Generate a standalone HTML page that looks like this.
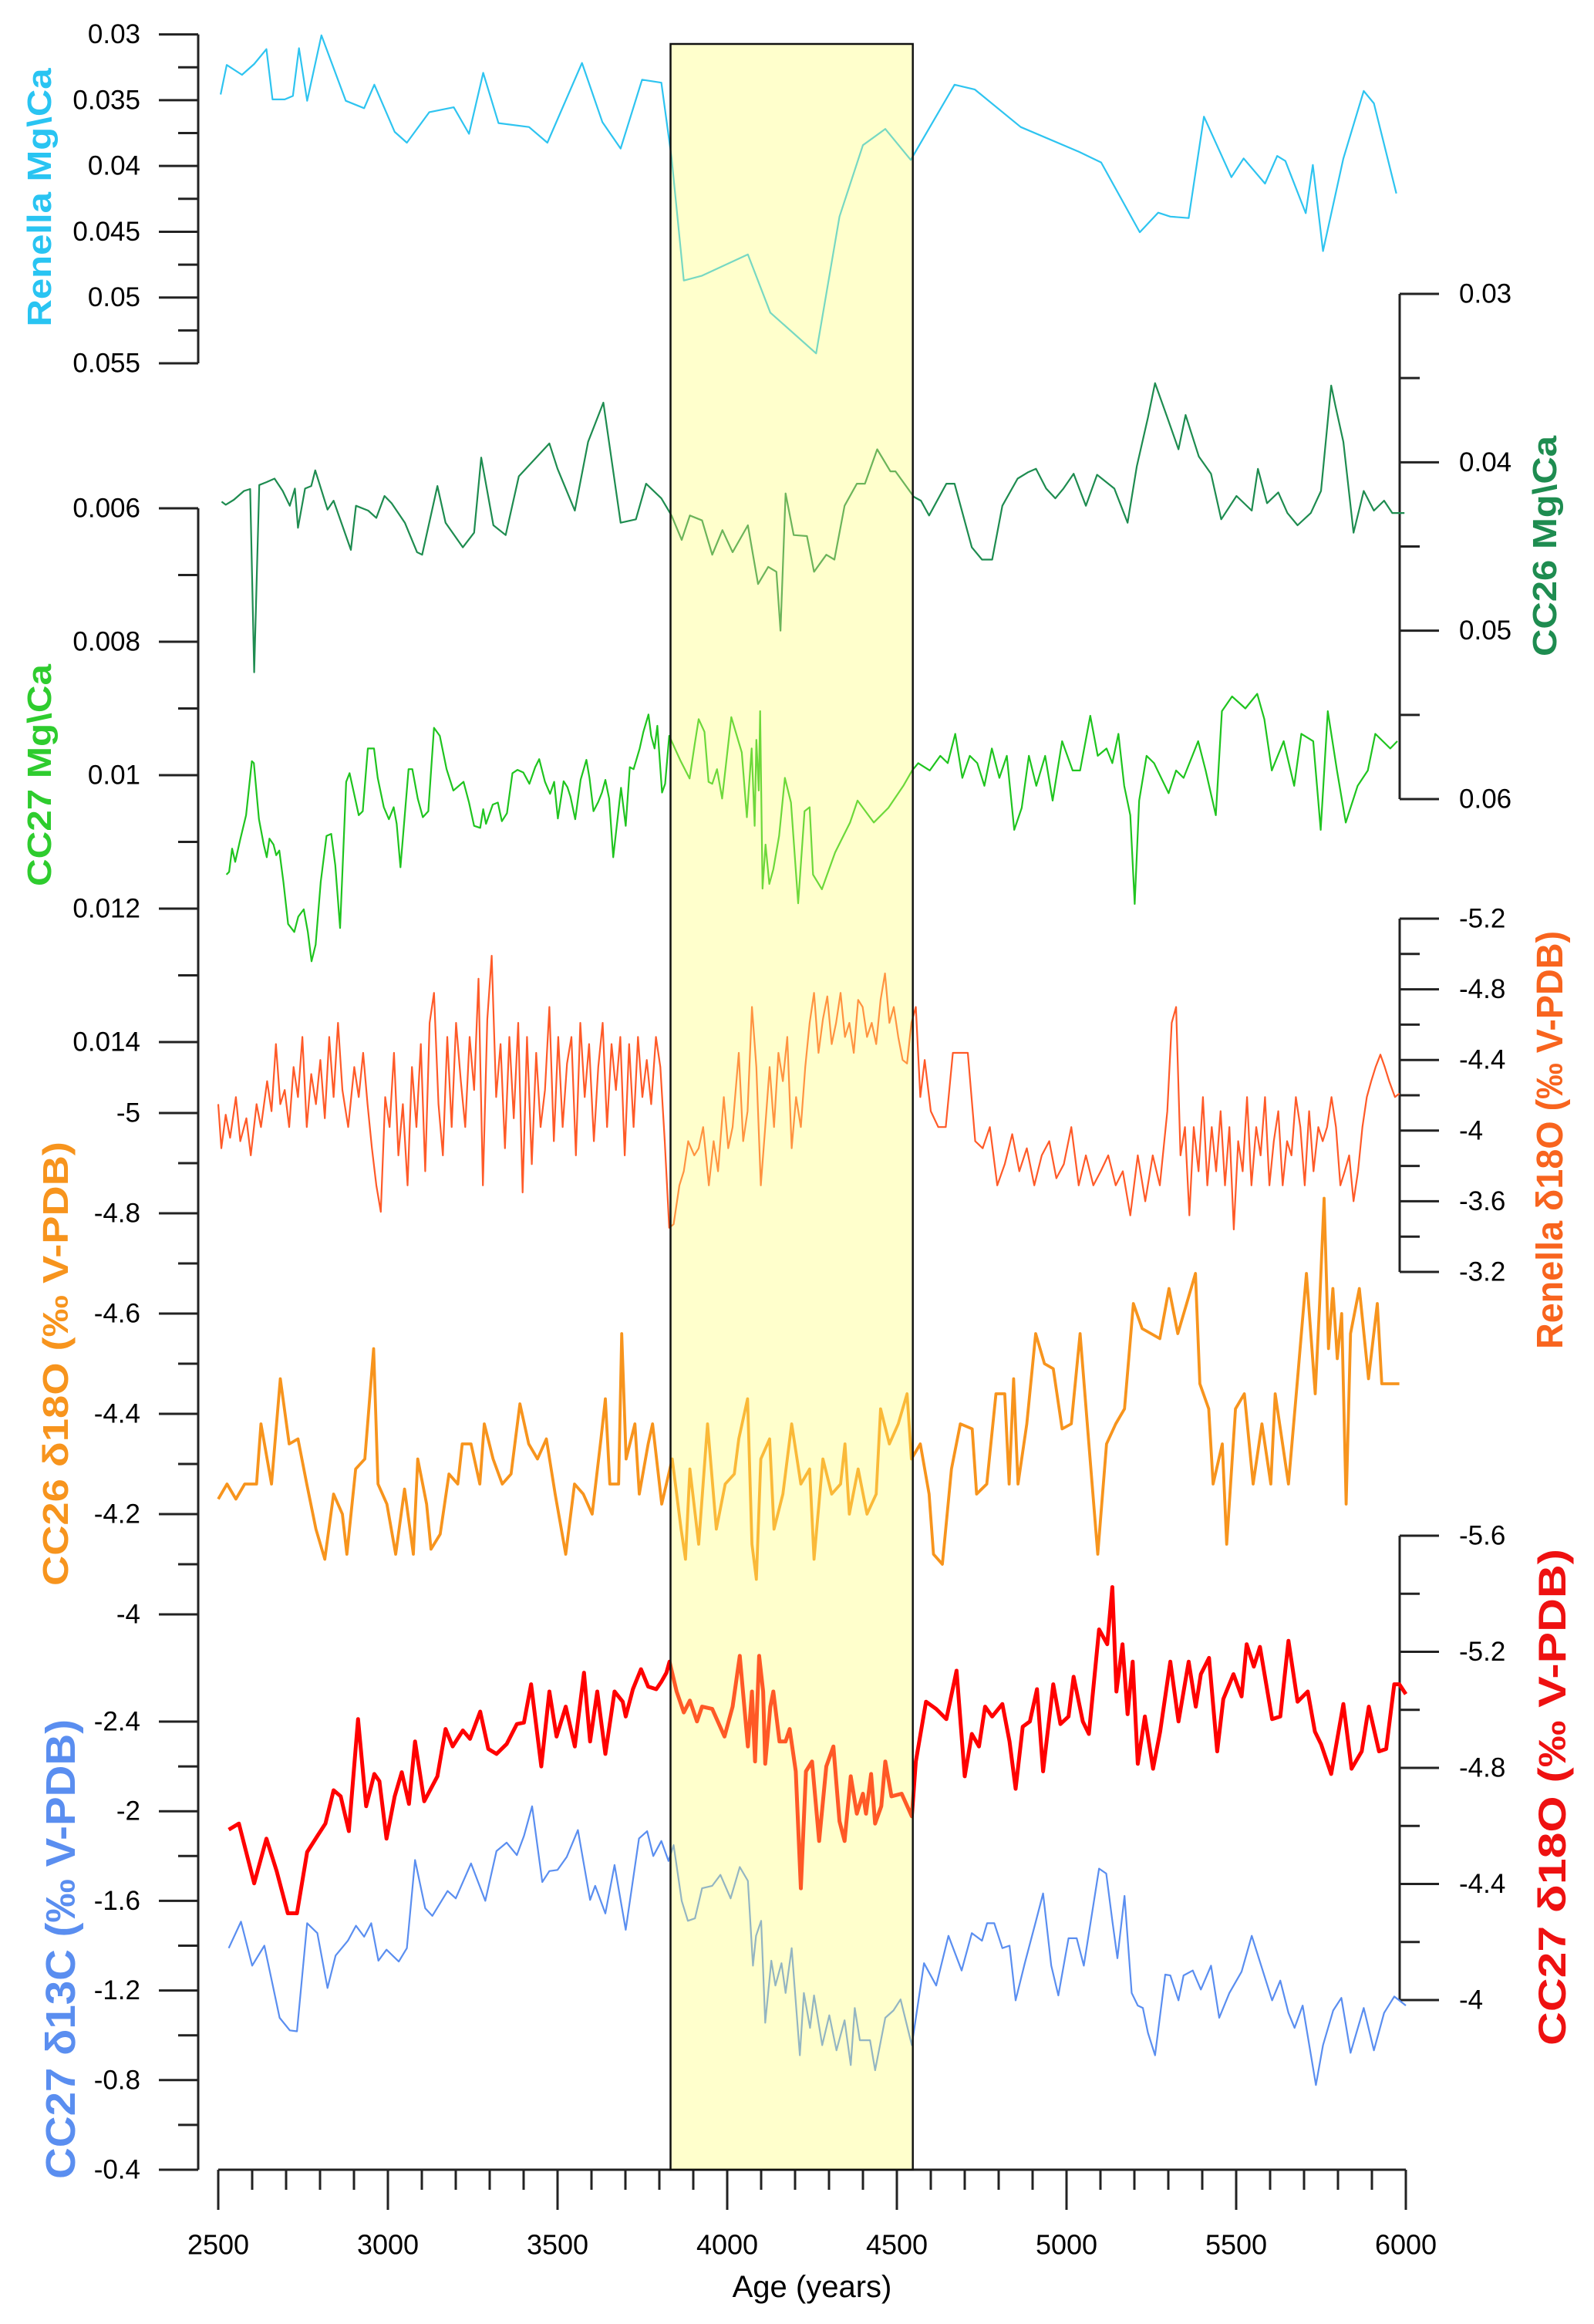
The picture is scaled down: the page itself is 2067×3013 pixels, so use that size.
<!DOCTYPE html>
<html>
<head>
<meta charset="utf-8">
<style>
html,body{margin:0;padding:0;background:#fff;}
svg{display:block;}
text{font-family:"Liberation Sans",Arial,sans-serif;}
</style>
</head>
<body>
<svg id="chart" xmlns="http://www.w3.org/2000/svg" width="2067" height="3013" viewBox="0 0 2067 3013">
  <g id="axes"></g>
  <g id="series"></g>
  <g id="overlay"></g>
  <g id="titles">
    <text transform="translate(66,256) rotate(-90)" text-anchor="middle" font-size="44" font-weight="bold" fill="#29c4f2" textLength="335" lengthAdjust="spacingAndGlyphs">Renella Mg\Ca</text>
    <text transform="translate(66,1005) rotate(-90)" text-anchor="middle" font-size="44" font-weight="bold" fill="#2ecc2e" textLength="288" lengthAdjust="spacingAndGlyphs">CC27 Mg\Ca</text>
    <text transform="translate(88,1768) rotate(-90)" text-anchor="middle" font-size="46" font-weight="bold" fill="#f7941d" textLength="576" lengthAdjust="spacingAndGlyphs">CC26 δ18O (‰ V-PDB)</text>
    <text transform="translate(97,2527) rotate(-90)" text-anchor="middle" font-size="54" font-weight="bold" fill="#5a8ef0" textLength="596" lengthAdjust="spacingAndGlyphs">CC27  δ13C (‰ V-PDB)</text>
    <text transform="translate(2018,708) rotate(-90)" text-anchor="middle" font-size="44" font-weight="bold" fill="#1e8c50" textLength="286" lengthAdjust="spacingAndGlyphs">CC26 Mg\Ca</text>
    <text transform="translate(2026,1478) rotate(-90)" text-anchor="middle" font-size="48" font-weight="bold" fill="#f8641e" textLength="542" lengthAdjust="spacingAndGlyphs">Renella δ18O (‰ V-PDB)</text>
    <text transform="translate(2030,2330) rotate(-90)" text-anchor="middle" font-size="50" font-weight="bold" fill="#ee1111" textLength="644" lengthAdjust="spacingAndGlyphs">CC27 δ18O (‰ V-PDB)</text>
    <text x="1053" y="2978" text-anchor="middle" font-size="40" fill="#000">Age (years)</text>
  </g>
</svg>
<script>
// ---------- tick labels ----------
const xTickLabels = ["2500","3000","3500","4000","4500","5000","5500","6000"];
const renellaMgTicks = ["0.03","0.035","0.04","0.045","0.05","0.055"];
const cc26MgTicks = ["0.03","0.04","0.05","0.06"];
const cc27MgTicks = ["0.006","0.008","0.01","0.012","0.014"];
const renellaOTicks = ["-5.2","-4.8","-4.4","-4","-3.6","-3.2"];
const cc26OTicks = ["-5","-4.8","-4.6","-4.4","-4.2","-4"];
const cc27OTicks = ["-5.6","-5.2","-4.8","-4.4","-4"];
const c13Ticks = ["-2.4","-2","-1.6","-1.2","-0.8","-0.4"];

// ---------- highlighted interval (years) ----------
const eventStart = 3833;
const eventEnd = 4547;

// ---------- Renella Mg/Ca ----------
const renellaMgAges = [2507,2525,2570,2606,2642,2660,2696,2720,2738,2762,2804,2876,2930,2960,3020,3056,3122,3194,3239,3281,3326,3416,3470,3572,3632,3686,3749,3806,3836,3872,3926,4061,4127,4262,4331,4400,4466,4541,4670,4730,4865,5036,5102,5216,5270,5306,5360,5405,5486,5522,5585,5621,5645,5705,5726,5756,5816,5876,5906,5972];
const renellaMgValues = [0.03457,0.03232,0.03307,0.03225,0.03112,0.03494,0.03494,0.03468,0.03105,0.03505,0.03007,0.03505,0.03561,0.03382,0.03741,0.03823,0.03591,0.03554,0.03756,0.03292,0.03674,0.03704,0.03823,0.03217,0.03666,0.03868,0.03344,0.03367,0.03936,0.04871,0.04834,0.04673,0.05115,0.05425,0.04385,0.03842,0.03719,0.03954,0.03382,0.03419,0.03704,0.03891,0.03973,0.04504,0.04355,0.04385,0.04396,0.03625,0.04085,0.03943,0.04134,0.03924,0.03962,0.04359,0.03992,0.04647,0.03943,0.0343,0.03524,0.04209];

// ---------- CC26 Mg/Ca ----------
const cc26MgAges = [2510,2522,2546,2576,2594,2606,2621,2642,2666,2690,
2711,2726,2735,2756,2774,2786,2822,2840,2891,2906,
2942,2966,2990,3011,3050,3086,3101,3146,3170,3221,
3254,3275,3311,3347,3386,3476,3500,3551,3590,3635,
3686,3731,3761,3806,3836,3866,3890,3926,3956,3986,
4016,4061,4091,4121,4145,4157,4172,4196,4235,4256,
4292,4316,4346,4382,4406,4442,4481,4496,4550,4571,
4595,4646,4670,4721,4751,4781,4811,4856,4886,4910,
4940,4967,4991,5021,5057,5090,5141,5180,5207,5240,
5261,5297,5330,5351,5390,5426,5456,5501,5546,5564,
5591,5624,5651,5681,5720,5750,5780,5792,5816,5846,
5876,5906,5936,5960,5996];
const cc26MgValues = [0.04234,0.04252,0.04223,0.0417,0.04159,0.05247,0.04135,0.04118,0.04097,0.0417,
0.04258,0.04156,0.04389,0.04156,0.04141,0.04048,0.04281,0.04228,0.0452,0.04258,
0.04287,0.0433,0.042,0.04243,0.04359,0.04534,0.04549,0.04141,0.04359,0.04505,
0.04418,0.03972,0.04374,0.04432,0.04083,0.03888,0.04039,0.04287,0.03879,0.03646,
0.04359,0.04339,0.04127,0.04214,0.04316,0.04461,0.04316,0.04345,0.04549,0.04403,
0.04534,0.04374,0.04723,0.04621,0.0465,0.05,0.04185,0.04432,0.04438,0.0465,
0.04549,0.04578,0.04258,0.04127,0.04127,0.03923,0.04054,0.04054,0.04205,0.04228,
0.04316,0.04127,0.04127,0.04505,0.04578,0.04578,0.04258,0.04097,0.0406,0.04039,
0.04156,0.04214,0.04156,0.04068,0.04258,0.04074,0.04156,0.04359,0.04025,0.03734,
0.0353,0.03734,0.03923,0.03719,0.03966,0.04068,0.04339,0.042,0.04287,0.04039,
0.04243,0.04179,0.04301,0.04374,0.04301,0.0417,0.03544,0.03661,0.03879,0.04418,
0.0417,0.04287,0.04228,0.04301,0.04301];

// ---------- CC27 Mg/Ca ----------
const cc27MgAges = [2524,2532,2541,2550,2564,2582,2599,2605,2620,2634,
2643,2651,2663,2671,2680,2692,2706,2715,2724,2736,
2752,2764,2775,2787,2802,2819,2833,2845,2859,2877,
2887,2901,2914,2926,2941,2959,2970,2988,3003,3017,
3026,3037,3061,3072,3088,3103,3119,3136,3153,3173,
3193,3223,3239,3254,3272,3281,3289,3309,3324,3336,
3351,3367,3382,3399,3417,3434,3446,3463,3478,3490,
3501,3518,3529,3538,3552,3568,3585,3594,3606,3620,
3631,3641,3652,3664,3680,3687,3701,3713,3724,3742,
3753,3768,3776,3786,3794,3808,3817,3829,3846,3863,
3889,3904,3916,3933,3945,3956,3970,3985,4012,4043,
4058,4072,4081,4086,4093,4097,4104,4113,4124,4136,
4153,4170,4188,4209,4228,4243,4253,4279,4318,4362,
4384,4432,4475,4519,4545,4563,4597,4628,4650,4672,
4693,4715,4737,4758,4780,4802,4824,4846,4868,4889,
4911,4937,4959,4987,5018,5040,5070,5092,5118,5135,
5153,5170,5188,5201,5214,5236,5258,5301,5323,5345,
5388,5410,5440,5458,5488,5527,5562,5583,5605,5640,
5671,5692,5727,5749,5770,5797,5823,5858,5888,5910,
5932,5954,5975];
const cc27MgValues = [0.01149,0.01145,0.0111,0.0113,0.01098,0.0106,0.00979,0.00982,0.01066,0.01104,
0.01123,0.01095,0.01104,0.0112,0.01113,0.0116,0.01223,0.01229,0.01235,0.01212,
0.01201,0.01235,0.01279,0.01254,0.0116,0.01091,0.01088,0.01135,0.01229,0.0101,
0.00997,0.01029,0.0106,0.01054,0.0096,0.0096,0.01004,0.01048,0.01066,0.01048,
0.01073,0.01138,0.00991,0.00991,0.01035,0.01063,0.01054,0.00929,0.00941,0.00991,
0.01023,0.0101,0.01041,0.01076,0.01079,0.01051,0.01073,0.01044,0.01041,0.01069,
0.01057,0.00997,0.00992,0.00996,0.01013,0.00988,0.00976,0.0101,0.01028,0.0101,
0.01065,0.01009,0.01018,0.01032,0.01066,0.01007,0.00977,0.01004,0.01054,0.0104,
0.01026,0.01007,0.01035,0.01123,0.01051,0.01019,0.01076,0.00988,0.00991,0.0096,
0.00935,0.00909,0.00941,0.0096,0.00926,0.01026,0.01013,0.00941,0.0096,0.00979,
0.01005,0.00954,0.00916,0.00935,0.0101,0.01013,0.00991,0.01035,0.00913,0.00966,
0.01063,0.0096,0.01076,0.00947,0.01023,0.00904,0.0117,0.01104,0.01163,0.01141,
0.01091,0.01004,0.01041,0.01192,0.01054,0.01048,0.01149,0.01171,0.01116,0.01071,
0.01038,0.01071,0.01049,0.01016,0.00993,0.00982,0.00993,0.00971,0.00982,0.00938,
0.01004,0.00971,0.00982,0.01016,0.0096,0.01004,0.00971,0.01082,0.01049,0.00971,
0.01016,0.00971,0.01038,0.00949,0.00993,0.00993,0.00911,0.00971,0.0096,0.00982,
0.00938,0.01016,0.0106,0.01193,0.01038,0.00971,0.00982,0.01027,0.00993,0.01004,
0.00949,0.00993,0.0106,0.00904,0.00882,0.009,0.00878,0.00916,0.00993,0.00949,
0.01016,0.00938,0.00949,0.01082,0.00904,0.00993,0.01071,0.01016,0.00993,0.00938,
0.00949,0.0096,0.00949];

// ---------- Renella d18O ----------
const renellaOAges = [2500,2509,2522,2535,2552,2565,2583,2596,2613,2626,
2644,2657,2670,2683,2696,2709,2722,2735,2748,2761,
2774,2788,2801,2814,2827,2840,2853,2866,2883,2901,
2914,2927,2940,2953,2966,2979,2992,3005,3018,3031,
3044,3058,3071,3084,3097,3110,3123,3136,3149,3162,
3175,3188,3201,3215,3228,3241,3254,3267,3280,3293,
3306,3319,3332,3345,3358,3371,3384,3397,3410,3424,
3437,3450,3463,3476,3489,3502,3515,3528,3541,3554,
3567,3580,3593,3607,3620,3633,3646,3659,3672,3685,
3698,3711,3724,3737,3750,3763,3776,3790,3803,3816,
3829,3842,3859,3872,3885,3903,3916,3929,3946,3960,
3973,3990,4003,4016,4034,4047,4060,4073,4086,4099,
4112,4125,4138,4151,4164,4177,4190,4203,4217,4230,
4243,4256,4269,4282,4295,4308,4321,4334,4347,4360,
4373,4386,4399,4412,4426,4439,4452,4465,4478,4491,
4504,4517,4530,4543,4556,4569,4582,4600,4622,4644,
4665,4687,4709,4731,4753,4774,4796,4818,4840,4861,
4883,4905,4927,4949,4970,4992,5014,5036,5057,5079,
5101,5123,5145,5166,5188,5210,5232,5254,5275,5297,
5310,5323,5336,5349,5362,5375,5389,5402,5415,5428,
5441,5454,5467,5480,5493,5506,5519,5532,5545,5559,
5572,5585,5598,5611,5624,5637,5650,5663,5676,5689,
5702,5715,5728,5742,5755,5768,5781,5794,5807,5820,
5833,5846,5859,5872,5885,5898,5911,5925,5938,5951,
5968,5981];
const renellaOValues = [-4.15,-3.90,-4.09,-3.96,-4.19,-3.94,-4.07,-3.86,-4.15,-4.02,
-4.28,-4.11,-4.49,-4.15,-4.23,-4.02,-4.36,-4.19,-4.53,-4.02,
-4.32,-4.15,-4.40,-4.07,-4.53,-4.19,-4.61,-4.23,-4.02,-4.36,
-4.19,-4.44,-4.15,-3.90,-3.69,-3.54,-4.19,-4.02,-4.44,-3.86,
-4.15,-3.69,-4.36,-4.02,-4.49,-3.77,-4.61,-4.78,-4.15,-3.86,
-4.53,-4.02,-4.61,-4.28,-4.02,-4.53,-4.23,-4.86,-3.69,-4.63,
-4.99,-4.19,-4.49,-3.90,-4.53,-4.07,-4.61,-3.65,-4.53,-3.81,
-4.44,-4.02,-4.23,-4.70,-3.94,-4.53,-4.02,-4.38,-4.53,-3.86,
-4.61,-4.19,-4.49,-3.94,-4.36,-4.61,-4.02,-4.49,-4.23,-4.53,
-3.86,-4.49,-4.02,-4.53,-4.19,-4.40,-4.15,-4.53,-4.36,-3.94,
-3.45,-3.47,-3.69,-3.77,-3.94,-3.86,-3.90,-4.02,-3.69,-3.94,
-3.77,-4.19,-3.90,-4.02,-4.44,-3.94,-4.11,-4.70,-4.36,-3.69,
-4.02,-4.36,-4.02,-4.44,-4.28,-4.53,-3.90,-4.19,-4.02,-4.36,
-4.61,-4.78,-4.44,-4.63,-4.76,-4.49,-4.61,-4.78,-4.53,-4.61,
-4.44,-4.74,-4.70,-4.53,-4.61,-4.49,-4.74,-4.89,-4.61,-4.70,
-4.53,-4.40,-4.38,-4.61,-4.70,-4.19,-4.40,-4.11,-4.02,-4.02,
-4.44,-4.44,-4.44,-3.94,-3.90,-4.02,-3.69,-3.81,-3.98,-3.77,
-3.90,-3.69,-3.86,-3.94,-3.73,-3.81,-4.02,-3.69,-3.86,-3.69,
-3.77,-3.86,-3.69,-3.77,-3.52,-3.86,-3.60,-3.86,-3.69,-4.11,
-4.61,-4.70,-3.86,-4.02,-3.52,-4.02,-3.77,-4.19,-3.69,-4.02,
-3.77,-4.11,-3.69,-4.02,-3.44,-3.94,-3.77,-4.19,-3.69,-4.02,
-3.86,-4.19,-3.69,-3.94,-4.11,-3.69,-3.94,-3.86,-4.19,-4.02,
-3.69,-4.11,-3.77,-4.02,-3.94,-4.02,-4.19,-4.02,-3.69,-3.77,
-3.86,-3.60,-3.77,-4.02,-4.19,-4.28,-4.36,-4.43,-4.36,-4.28,
-4.19,-4.21];

// ---------- CC26 d18O ----------
const cc26OAges = [2500,2526,2552,2578,2613,2626,2657,2683,2709,2735,
2761,2788,2814,2840,2866,2879,2905,2932,2958,2971,
2997,3023,3049,3075,3088,3114,3127,3154,3180,3206,
3219,3245,3271,3284,3310,3337,3363,3389,3415,3441,
3467,3493,3524,3550,3576,3602,3628,3641,3654,3680,
3689,3702,3728,3741,3767,3780,3807,3838,3864,3877,
3890,3916,3942,3968,3994,4021,4034,4060,4073,4086,
4099,4125,4138,4164,4190,4217,4243,4256,4282,4308,
4334,4347,4360,4386,4412,4439,4452,4478,4504,4530,
4543,4569,4595,4608,4634,4661,4687,4722,4735,4765,
4792,4818,4831,4844,4857,4883,4909,4935,4961,4987,
5014,5040,5066,5092,5118,5145,5171,5197,5223,5249,
5275,5302,5328,5354,5380,5393,5419,5432,5459,5472,
5498,5524,5550,5576,5602,5615,5654,5681,5707,5733,
5746,5759,5772,5785,5798,5811,5824,5837,5863,5890,
5916,5929,5955,5981];
const cc26OValues = [-4.23,-4.26,-4.23,-4.26,-4.26,-4.38,-4.26,-4.47,-4.34,-4.35,
-4.26,-4.17,-4.11,-4.24,-4.20,-4.12,-4.29,-4.31,-4.53,-4.26,
-4.22,-4.12,-4.25,-4.12,-4.31,-4.22,-4.13,-4.16,-4.28,-4.26,
-4.34,-4.34,-4.26,-4.38,-4.31,-4.26,-4.28,-4.42,-4.34,-4.31,
-4.35,-4.24,-4.12,-4.26,-4.24,-4.20,-4.35,-4.43,-4.26,-4.26,
-4.56,-4.31,-4.38,-4.24,-4.34,-4.38,-4.22,-4.31,-4.17,-4.11,
-4.29,-4.14,-4.38,-4.17,-4.26,-4.28,-4.35,-4.43,-4.14,-4.07,
-4.31,-4.35,-4.17,-4.24,-4.38,-4.26,-4.29,-4.11,-4.31,-4.24,
-4.26,-4.34,-4.20,-4.29,-4.20,-4.24,-4.41,-4.34,-4.38,-4.44,
-4.31,-4.34,-4.24,-4.12,-4.10,-4.29,-4.38,-4.37,-4.24,-4.26,
-4.44,-4.44,-4.26,-4.47,-4.26,-4.38,-4.56,-4.50,-4.49,-4.37,
-4.38,-4.56,-4.34,-4.12,-4.34,-4.38,-4.41,-4.62,-4.57,-4.56,
-4.55,-4.65,-4.56,-4.62,-4.68,-4.46,-4.41,-4.26,-4.34,-4.14,
-4.41,-4.44,-4.26,-4.38,-4.26,-4.44,-4.26,-4.47,-4.68,-4.44,
-4.62,-4.83,-4.53,-4.65,-4.51,-4.60,-4.22,-4.56,-4.65,-4.47,
-4.62,-4.46,-4.46,-4.46];

// ---------- CC27 d18O ----------
const cc27OAges = [2531,2561,2606,2642,2672,2705,2732,2762,2792,2816,
2840,2861,2885,2912,2936,2960,2975,2996,3020,3041,
3062,3080,3107,3146,3170,3191,3221,3242,3272,3296,
3320,3350,3380,3401,3422,3452,3476,3497,3524,3551,
3578,3596,3617,3641,3668,3692,3701,3722,3746,3767,
3791,3806,3821,3830,3851,3872,3890,3911,3926,3956,
3992,4016,4037,4061,4073,4082,4094,4106,4112,4127,
4136,4154,4172,4184,4202,4217,4232,4250,4271,4292,
4313,4331,4346,4364,4382,4400,4409,4424,4436,4454,
4466,4484,4514,4544,4556,4586,4616,4646,4676,4700,
4721,4742,4760,4781,4811,4832,4850,4871,4892,4913,
4931,4961,4982,5006,5021,5048,5066,5096,5120,5135,
5147,5165,5180,5195,5210,5231,5255,5276,5306,5330,
5360,5381,5396,5420,5444,5462,5492,5516,5531,5552,
5570,5606,5630,5654,5681,5711,5732,5750,5780,5816,
5840,5870,5891,5921,5942,5966,5981,6000];
const cc27OValues = [-4.587,-4.608,-4.402,-4.556,-4.445,-4.299,-4.299,-4.510,-4.565,-4.608,
-4.723,-4.702,-4.582,-4.968,-4.668,-4.779,-4.754,-4.556,-4.702,-4.785,
-4.676,-4.891,-4.685,-4.771,-4.934,-4.874,-4.929,-4.900,-4.994,-4.865,
-4.848,-4.882,-4.951,-4.956,-5.088,-4.805,-5.063,-4.908,-5.011,-4.874,
-5.128,-4.891,-5.063,-4.848,-5.063,-5.028,-4.977,-5.071,-5.140,-5.080,
-5.071,-5.097,-5.128,-5.166,-5.063,-4.991,-5.032,-4.960,-5.011,-5.003,
-4.908,-5.011,-5.186,-4.874,-5.063,-4.822,-5.186,-5.063,-4.814,-5.011,
-5.063,-4.891,-4.891,-4.934,-4.788,-4.385,-4.788,-4.822,-4.548,-4.805,
-4.874,-4.616,-4.548,-4.771,-4.642,-4.711,-4.642,-4.779,-4.608,-4.668,
-4.822,-4.702,-4.711,-4.633,-4.822,-5.028,-5.003,-4.968,-5.135,-4.771,
-4.917,-4.874,-5.011,-4.977,-5.020,-4.891,-4.728,-4.942,-4.960,-5.071,
-4.788,-5.088,-4.951,-4.977,-5.114,-4.960,-4.917,-5.277,-5.226,-5.423,
-5.063,-5.226,-4.985,-5.166,-4.814,-4.977,-4.797,-4.925,-5.166,-4.960,
-5.166,-5.011,-5.123,-5.179,-4.857,-5.037,-5.123,-5.046,-5.226,-5.149,
-5.217,-4.968,-4.977,-5.238,-5.028,-5.063,-4.925,-4.882,-4.779,-5.020,
-4.797,-4.857,-5.011,-4.857,-4.865,-5.088,-5.088,-5.054];

// ---------- CC27 d13C ----------
const c13Ages = [2531,2567,2600,2636,2681,2711,2732,2762,2792,2822,
2846,2882,2906,2930,2951,2972,2996,3032,3056,3080,
3110,3131,3176,3200,3245,3287,3320,3350,3380,3401,
3425,3455,3476,3500,3527,3560,3596,3611,3641,3668,
3701,3740,3764,3782,3806,3827,3842,3866,3884,3905,
3926,3956,3980,4010,4037,4061,4076,4085,4100,4112,
4130,4142,4160,4172,4190,4214,4226,4244,4256,4280,
4301,4322,4346,4364,4376,4391,4421,4436,4466,4490,
4511,4544,4580,4616,4652,4691,4721,4751,4766,4787,
4811,4832,4850,4877,4910,4931,4955,4976,5006,5030,
5051,5096,5117,5135,5150,5171,5192,5210,5225,5240,
5261,5291,5306,5330,5345,5372,5396,5426,5450,5480,
5516,5546,5576,5606,5630,5654,5672,5696,5735,5756,
5786,5810,5837,5876,5906,5936,5966,6000];
const c13Values = [-1.389,-1.507,-1.311,-1.400,-1.078,-1.022,-1.018,-1.500,-1.456,-1.211,
-1.356,-1.422,-1.489,-1.440,-1.500,-1.333,-1.382,-1.329,-1.389,-1.782,
-1.567,-1.533,-1.644,-1.611,-1.767,-1.600,-1.822,-1.860,-1.804,-1.889,
-2.022,-1.684,-1.733,-1.738,-1.796,-1.916,-1.604,-1.667,-1.544,-1.760,
-1.471,-1.878,-1.911,-1.800,-1.867,-1.778,-1.849,-1.600,-1.511,-1.522,
-1.656,-1.667,-1.716,-1.611,-1.751,-1.689,-1.311,-1.444,-1.511,-1.056,
-1.333,-1.222,-1.322,-1.189,-1.389,-0.911,-1.189,-1.033,-1.178,-0.956,
-1.089,-0.933,-1.067,-0.867,-1.122,-0.978,-0.978,-0.844,-1.078,-1.111,
-1.160,-0.956,-1.322,-1.222,-1.444,-1.289,-1.456,-1.422,-1.500,-1.500,
-1.389,-1.400,-1.156,-1.322,-1.511,-1.633,-1.311,-1.178,-1.433,-1.433,
-1.311,-1.744,-1.722,-1.511,-1.344,-1.622,-1.189,-1.133,-1.122,-1.011,
-0.911,-1.271,-1.267,-1.156,-1.267,-1.289,-1.204,-1.311,-1.078,-1.189,
-1.284,-1.444,-1.300,-1.156,-1.244,-1.100,-1.033,-1.133,-0.778,-0.956,
-1.111,-1.167,-0.922,-1.122,-0.933,-1.100,-1.173,-1.133];

// ---------- layout ----------
const NS = "http://www.w3.org/2000/svg";
const X0 = 283, XPX = 0.44, AGE0 = 2500;
const LEFT_X = 257, RIGHT_X = 1815, X_AXIS_Y = 2813;
function xScale(age){ return X0 + (age - AGE0) * XPX; }
function makeY(vTop, vBot, pTop, pBot){ return v => pTop + (v - vTop) / (vBot - vTop) * (pBot - pTop); }

const yRenellaMg = makeY(0.03, 0.055, 44.6, 471);
const yCC26Mg = makeY(0.03, 0.06, 381, 1036);
const yCC27Mg = makeY(0.006, 0.014, 659, 1351);
const yRenellaO = makeY(-5.2, -3.2, 1191, 1649);
const yCC26O = makeY(-5, -4, 1443, 2093);
const yCC27O = makeY(-5.6, -4, 1991, 2593);
const yC13 = makeY(-2.4, -0.4, 2232, 2813);

const axesG = document.getElementById('axes');
const seriesG = document.getElementById('series');
const overlayG = document.getElementById('overlay');

function line(g, x1, y1, x2, y2, w, name){
  const l = document.createElementNS(NS, 'line');
  l.setAttribute('x1', x1); l.setAttribute('y1', y1);
  l.setAttribute('x2', x2); l.setAttribute('y2', y2);
  l.setAttribute('stroke', '#222'); l.setAttribute('stroke-width', w);
  
  
  g.appendChild(l);
  return l;
}
function label(g, x, y, txt, anchor, size, name){
  const t = document.createElementNS(NS, 'text');
  t.setAttribute('x', x); t.setAttribute('y', y);
  t.setAttribute('text-anchor', anchor);
  t.setAttribute('font-size', size);
  t.setAttribute('dominant-baseline', 'central');
  t.setAttribute('fill', '#000');
  t.textContent = txt;
  
  
  g.appendChild(t);
  return t;
}

function drawYAxis(labels, yFn, side, name, drawLine){
  const vals = labels.map(parseFloat);
  const ax = side === 'left' ? LEFT_X : RIGHT_X;
  const dir = side === 'left' ? -1 : 1;
  if (drawLine) line(axesG, ax, yFn(vals[0]), ax, yFn(vals[vals.length-1]), 3, name + '-line');
  vals.forEach((v, i) => {
    const y = yFn(v);
    line(axesG, ax, y, ax + dir * 51, y, 3, name + '-major-tick');
    if (side === 'left') label(axesG, 182, y, labels[i], 'end', 35, name + '-tick-label');
    else label(axesG, 1892, y, labels[i], 'start', 35, name + '-tick-label');
    if (i < vals.length - 1) {
      const ym = yFn((v + vals[i+1]) / 2);
      line(axesG, ax, ym, ax + dir * 26, ym, 3, name + '-minor-tick');
    }
  });
}

drawYAxis(renellaMgTicks, yRenellaMg, 'left', 'renella-mgca-axis', true);
drawYAxis(cc26MgTicks, yCC26Mg, 'right', 'cc26-mgca-axis', true);
drawYAxis(cc27MgTicks, yCC27Mg, 'left', 'cc27-mgca-axis', false);
drawYAxis(renellaOTicks, yRenellaO, 'right', 'renella-d18o-axis', true);
drawYAxis(cc26OTicks, yCC26O, 'left', 'cc26-d18o-axis', false);
drawYAxis(cc27OTicks, yCC27O, 'right', 'cc27-d18o-axis', true);
drawYAxis(c13Ticks, yC13, 'left', 'cc27-d13c-axis', false);
line(axesG, LEFT_X, yCC27Mg(0.006), LEFT_X, X_AXIS_Y, 3, 'left-lower-axis-line');

// x axis
const xVals = xTickLabels.map(parseFloat);
line(axesG, xScale(xVals[0]), X_AXIS_Y, xScale(xVals[xVals.length-1]), X_AXIS_Y, 3, 'x-axis-line');
for (let a = xVals[0]; a <= xVals[xVals.length-1]; a += 100) {
  const isMajor = (a - xVals[0]) % 500 === 0;
  line(axesG, xScale(a), X_AXIS_Y, xScale(a), X_AXIS_Y + (isMajor ? 52 : 26), 3, isMajor ? 'x-major-tick' : 'x-minor-tick');
}
xVals.forEach((v, i) => {
  const t = label(axesG, xScale(v), 2910, xTickLabels[i], 'middle', 36, 'x-tick-label');
});

// series
function drawSeries(ages, values, yFn, color, width, name){
  const p = document.createElementNS(NS, 'polyline');
  const pts = ages.map((a, i) => xScale(a).toFixed(1) + ',' + yFn(values[i]).toFixed(1)).join(' ');
  p.setAttribute('points', pts);
  p.setAttribute('fill', 'none');
  p.setAttribute('stroke', color);
  p.setAttribute('stroke-width', width);
  p.setAttribute('stroke-linejoin', 'round');
  
  
  seriesG.appendChild(p);
}
drawSeries(renellaMgAges, renellaMgValues, yRenellaMg, '#2ec4f0', 2.2, 'renella-mgca-line');
drawSeries(cc26MgAges, cc26MgValues, yCC26Mg, '#1e8c50', 2.2, 'cc26-mgca-line');
drawSeries(cc27MgAges, cc27MgValues, yCC27Mg, '#1fc41f', 2.2, 'cc27-mgca-line');
drawSeries(renellaOAges, renellaOValues, yRenellaO, '#ff5a28', 2.2, 'renella-d18o-line');
drawSeries(cc26OAges, cc26OValues, yCC26O, '#f7941d', 3.8, 'cc26-d18o-line');
drawSeries(cc27OAges, cc27OValues, yCC27O, '#ff0000', 5, 'cc27-d18o-line');
drawSeries(c13Ages, c13Values, yC13, '#5a8ef0', 2.2, 'cc27-d13c-line');

// highlighted interval box
const box = document.createElementNS(NS, 'rect');
box.setAttribute('x', xScale(eventStart));
box.setAttribute('y', 57);
box.setAttribute('width', xScale(eventEnd) - xScale(eventStart));
box.setAttribute('height', X_AXIS_Y - 57);
box.setAttribute('fill', 'rgb(255,255,109)');
box.setAttribute('fill-opacity', '0.35');
box.setAttribute('stroke', '#111');
box.setAttribute('stroke-width', 2.5);


overlayG.appendChild(box);
</script>
</body>
</html>
